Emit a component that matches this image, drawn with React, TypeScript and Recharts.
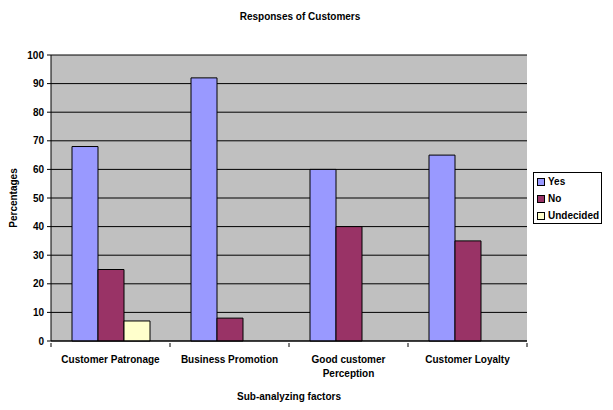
import React from 'react';
import {
  BarChart,
  Bar,
  XAxis,
  YAxis,
  CartesianGrid,
} from 'recharts';

const categories = ['Customer Patronage', 'Business Promotion', 'Good customer Perception', 'Customer Loyalty'];
const yesValues = [68, 92, 60, 65];
const noValues = [25, 8, 40, 35];
const undecidedValues = [7, 0, 0, 0];
const yTicks = [0, 10, 20, 30, 40, 50, 60, 70, 80, 90, 100];

const seriesNames = ['Yes', 'No', 'Undecided'];
const seriesColors = ['#9999FF', '#993366', '#FFFFCC'];

const data = categories.map((name, i) => ({
  name,
  Yes: yesValues[i],
  No: noValues[i],
  Undecided: undecidedValues[i],
}));

const FONT = '"Liberation Sans", Arial, sans-serif';

// break long category names into lines of at most ~20 chars
const wrap = (s: string, max = 20) => {
  const lines: string[] = [];
  let cur = '';
  s.split(' ').forEach((w) => {
    const next = cur ? cur + ' ' + w : w;
    if (next.length > max && cur) {
      lines.push(cur);
      cur = w;
    } else {
      cur = next;
    }
  });
  if (cur) lines.push(cur);
  return lines;
};

const CategoryTick = (props: any) => {
  const { x, y, payload, index, visibleTicksCount } = props;
  const half = payload.offset || 0;
  const lines = wrap(String(payload.value));
  return (
    <g>
      <line x1={x - half} y1={y} x2={x - half} y2={y + 4} stroke="#000" />
      {index === visibleTicksCount - 1 && (
        <line x1={x + half} y1={y} x2={x + half} y2={y + 4} stroke="#000" />
      )}
      <text
        x={x}
        y={y + 20}
        textAnchor="middle"
        fontSize={10}
        fontWeight="bold"
        fontFamily={FONT}
        fill="#000"
      >
        {lines.map((l, i) => (
          <tspan key={i} x={x} dy={i === 0 ? 0 : 14}>
            {l}
          </tspan>
        ))}
      </text>
    </g>
  );
};

export default function App() {
  return (
    <div style={{ position: 'absolute', left: 0, top: 0, width: 613, height: 410, background: '#fff' }}>
      <div
        style={{
          position: 'absolute',
          left: 0,
          top: 11,
          width: 600,
          textAlign: 'center',
          fontFamily: FONT,
          fontSize: 10,
          fontWeight: 'bold',
          color: '#000',
        }}
      >
        Responses of Customers
      </div>
      <BarChart
        width={613}
        height={410}
        data={data}
        margin={{ top: 55, right: 86, left: 0, bottom: 0 }}
        barGap={0}
        barSize={26}
      >
        <CartesianGrid vertical={false} stroke="#000" fill="#C0C0C0" fillOpacity={1} />
        <XAxis
          dataKey="name"
          height={69}
          axisLine={{ stroke: '#000' }}
          tickLine={false}
          tickSize={0}
          tick={<CategoryTick />}
          interval={0}
          label={{
            value: 'Sub-analyzing factors',
            position: 'insideBottom',
            offset: 10,
            fontSize: 10,
            fontWeight: 'bold',
            fontFamily: FONT,
            fill: '#000',
          }}
        />
        <YAxis
          width={51}
          domain={[0, 100]}
          ticks={yTicks}
          interval={0}
          axisLine={{ stroke: '#000' }}
          tickLine={{ stroke: '#000' }}
          tickSize={4}
          tickMargin={3}
          tick={{ fontSize: 10, fontWeight: 'bold', fontFamily: FONT, fill: '#000' }}
          label={{
            value: 'Percentages',
            angle: -90,
            position: 'center',
            dx: -12,
            fontSize: 10,
            fontWeight: 'bold',
            fontFamily: FONT,
            fill: '#000',
          }}
        />
        {seriesNames.map((s, i) => (
          <Bar key={s} dataKey={s} fill={seriesColors[i]} stroke="#000" strokeWidth={1} isAnimationActive={false} />
        ))}
      </BarChart>
      <div
        style={{
          position: 'absolute',
          left: 533,
          top: 172,
          width: 67,
          height: 50,
          border: '1px solid #000',
          background: '#fff',
        }}
      >
        {seriesNames.map((s, i) => (
          <div key={s} style={{ display: 'flex', alignItems: 'center', height: 17, marginLeft: 3 }}>
            <span
              style={{
                width: 6,
                height: 6,
                border: '1px solid #000',
                background: seriesColors[i],
                marginRight: 3,
              }}
            />
            <span style={{ fontSize: 10, fontWeight: 'bold', fontFamily: FONT, color: '#000' }}>{s}</span>
          </div>
        ))}
      </div>
    </div>
  );
}
